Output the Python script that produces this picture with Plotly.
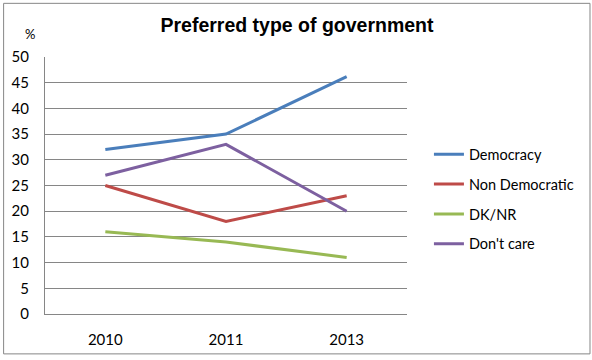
import plotly.graph_objects as go

years = ["2010", "2011", "2013"]
democracy = [32, 35, 46.2]
non_democratic = [25, 18, 23]
dk_nr = [16, 14, 11]
dont_care = [27, 33, 20]
y_ticks = [0, 5, 10, 15, 20, 25, 30, 35, 40, 45, 50]

series = [
    ("Democracy", democracy, "#4A7EBB"),
    ("Non Democratic", non_democratic, "#BE4B48"),
    ("DK/NR", dk_nr, "#98B954"),
    ("Don't care", dont_care, "#7D60A0"),
]

W, H = 592, 360
L, R, T, B = 44, 185, 57, 42
pw = W - L - R
ph = H - T - B

fig = go.Figure()
for i, (name, vals, col) in enumerate(series):
    fig.add_trace(go.Scatter(x=years, y=vals, mode="lines", name=name,
                             line=dict(color=col, width=3), legendgroup=str(i)))

def px_x(x):
    return (x - L) / pw

def px_y(y):
    return (H - B - y) / ph

fig.update_layout(
    width=W, height=H,
    margin=dict(l=L, r=R, t=T, b=B),
    paper_bgcolor="white", plot_bgcolor="white",
    font=dict(family="Lato, Liberation Sans, Arial", size=15, color="#000000"),
    title=dict(text="<b>Preferred type of government</b>", x=297 / W, xanchor="center",
               y=1 - 25 / H, yanchor="middle",
               font=dict(size=19.5, family="Liberation Sans, Arial", color="#000")),
    showlegend=True,
    legend=dict(x=px_x(429), xanchor="left", y=px_y(201.5), yanchor="middle",
                font=dict(size=14.5, family="Lato, Liberation Sans, Arial"),
                tracegroupgap=8, traceorder="grouped", bgcolor="rgba(0,0,0,0)"),
    xaxis=dict(type="category", showgrid=False, showline=True, linecolor="#868686",
               linewidth=1, ticks="", tickfont=dict(size=15), fixedrange=True,
               range=[-0.5, 2.5], ticklabelstandoff=12),
    yaxis=dict(range=[0, 50], tickvals=y_ticks, showgrid=True, gridcolor="#868686",
               gridwidth=1, showline=True, linecolor="#868686", linewidth=1,
               ticks="", ticklabelstandoff=12, fixedrange=True,
               tickfont=dict(size=15), zeroline=False),
    annotations=[dict(text="%", x=px_x(29), y=px_y(33.5), xref="paper", yref="paper",
                      showarrow=False, font=dict(size=13), xanchor="center", yanchor="middle")],
    shapes=[dict(type="rect", xref="paper", yref="paper",
                 x0=px_x(2.5), x1=px_x(W - 1.5), y0=px_y(H - 1.5), y1=px_y(2.5),
                 line=dict(color="#868686", width=1))],
)

fig.write_html("out.html", config={"displayModeBar": False},
               post_script="document.body.style.margin='0';")
